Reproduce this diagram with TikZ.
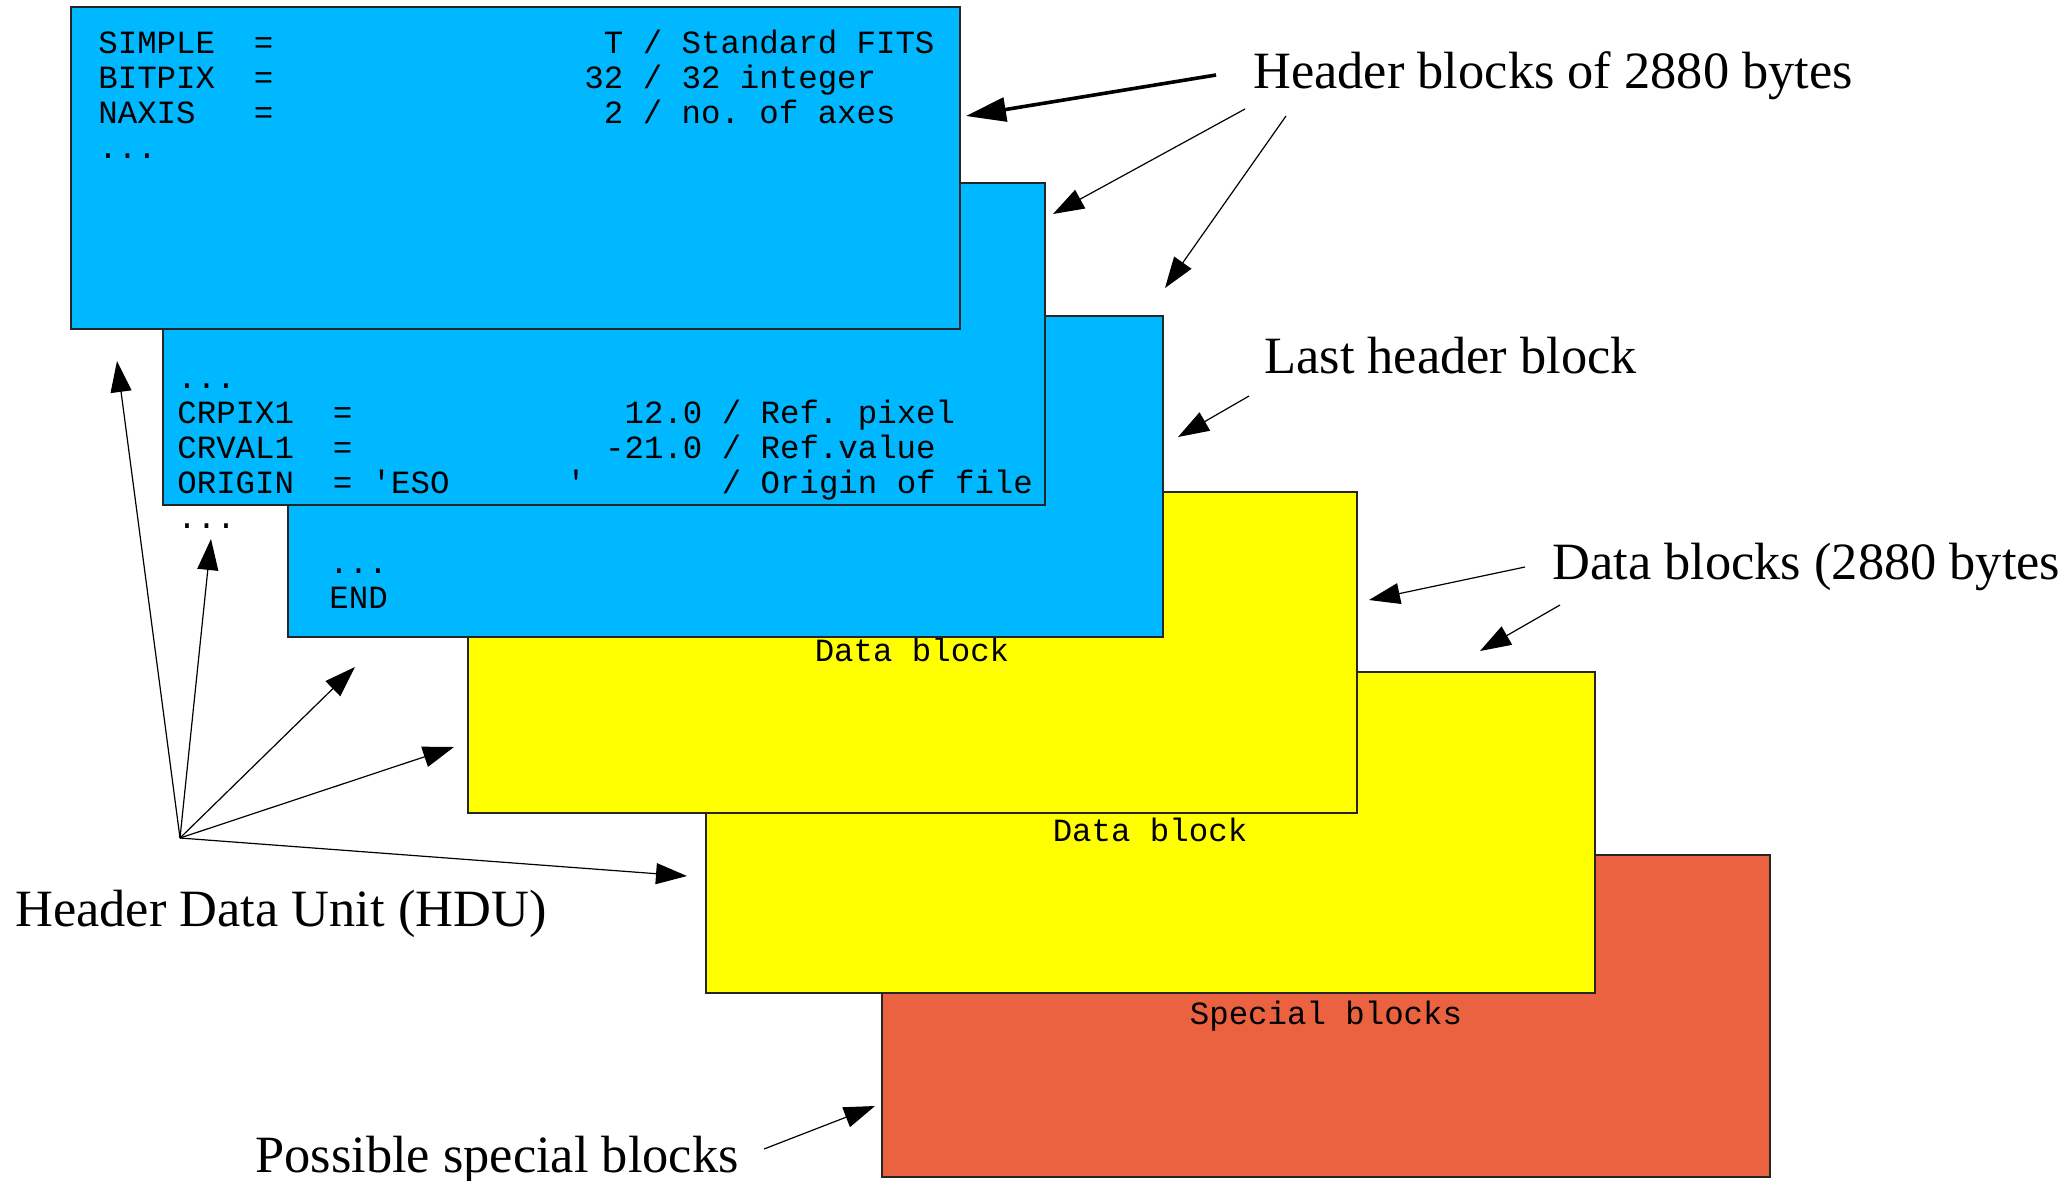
\documentclass[tikz,border=0pt]{standalone}
\usepackage{fontspec}
\setmainfont{Liberation Serif}
\setmonofont{Liberation Mono}
\usetikzlibrary{arrows.meta,fit}
\newcommand\sk[1]{\hskip#1\fontcharwd\font`0\relax}
\definecolor{hblue}{RGB}{0,184,255}
\definecolor{dyellow}{RGB}{255,255,0}
\definecolor{sred}{RGB}{235,98,64}
\begin{document}
\begin{tikzpicture}[x=0.5pt,y=-0.5pt,
  blk/.style={draw=black!85, line width=0.6pt, inner sep=0pt, outer sep=0pt},
  hdr/.style={blk, fill=hblue},
  dat/.style={blk, fill=dyellow},
  spc/.style={blk, fill=sred},
  mono/.style={anchor=base west, inner sep=0pt, font=\fontsize{16.2}{17.5}\selectfont\ttfamily\frenchspacing},
  monoc/.style={mono, anchor=base},
  lbl/.style={anchor=base west, inner sep=0pt, font=\fontsize{26.2}{30}\selectfont},
  ptr/.style={-{Triangle[length=15.5pt,width=10.5pt]}, line width=0.6pt},
  bigptr/.style={-{Triangle[length=20pt,width=12pt]}, line width=1.8pt},
]
\useasboundingbox (0,0) rectangle (2069,1180);

% special block
\node[spc, fit={(882,855) (1770,1177)}] (b6) {};
\node[monoc] (t6) at (1326,1024) {Special blocks};
% data blocks
\node[dat, fit={(706,672) (1595,993)}] (b5) {};
\node[monoc] (t5) at (1150,841) {Data block};
\node[dat, fit={(468,492) (1357,813)}] (b4) {};
\node[monoc] (t4) at (912,661) {Data block};
% last header block
\node[hdr, fit={(288,316) (1163,637)}] (b3) {};
\node[mono] (t3a) at (329,573) {...};
\node[mono] (t3b) at (329,608) {END};
% second header block
\node[hdr, fit={(163,183) (1045,505)}] (b2) {};
\node[mono] (t2a) at (177,388) {...};
\node[mono] (t2b) at (177,423) {CRPIX1\sk2=\sk{14}12.0 / Ref. pixel};
\node[mono] (t2c) at (177,458) {CRVAL1\sk2=\sk{13}-21.0 / Ref.value};
\node[mono] (t2d) at (177,493) {ORIGIN\sk2= 'ESO\sk6'\sk7/ Origin of file};
\node[mono] (t2e) at (177,528) {...};
% first header block
\node[hdr, fit={(71,7) (960,329)}] (b1) {};
\node[mono] (t1a) at (98,53) {SIMPLE\sk2=\sk{17}T / Standard FITS};
\node[mono] (t1b) at (98,88) {BITPIX\sk2=\sk{16}32 / 32 integer};
\node[mono] (t1c) at (98,123) {NAXIS\sk3=\sk{17}2 / no. of axes};
\node[mono] (t1d) at (98,158) {...};

% labels
\node[lbl] (lh) at (1253,88) {Header blocks of 2880 bytes};
\node[lbl] (ll) at (1264,373) {Last header block};
\node[lbl] (ld) at (1552,579) {Data blocks (2880 bytes};
\node[lbl] (lu) at (15,926) {Header Data Unit (HDU)};
\node[lbl] (lp) at (255,1172) {Possible special blocks};

% arrow end points
\coordinate (hA) at (1216,75);  \coordinate (hAt) at (966,116);
\coordinate (hB) at (1245,109); \coordinate (hBt) at (1053,214);
\coordinate (hC) at (1286,116); \coordinate (hCt) at (1165,288);
\coordinate (lA) at (1249,396); \coordinate (lAt) at (1178,437);
\coordinate (dA) at (1525,567); \coordinate (dAt) at (1369,600);
\coordinate (dB) at (1560,605); \coordinate (dBt) at (1480,651);
\coordinate (pA) at (764,1149); \coordinate (pAt) at (875,1106);
\coordinate (u0) at (180,838);
\coordinate (u1) at (117,361);
\coordinate (u2) at (211,539);
\coordinate (u3) at (355,667);
\coordinate (u4) at (454,747);
\coordinate (u5) at (687,876);

\draw[bigptr] (hA) -- (hAt);
\draw[ptr] (hB) -- (hBt);
\draw[ptr] (hC) -- (hCt);
\draw[ptr] (lA) -- (lAt);
\draw[ptr] (dA) -- (dAt);
\draw[ptr] (dB) -- (dBt);
\draw[ptr] (pA) -- (pAt);
\foreach \t in {u1,u2,u3,u4,u5} \draw[ptr] (u0) -- (\t);
\end{tikzpicture}
\end{document}
